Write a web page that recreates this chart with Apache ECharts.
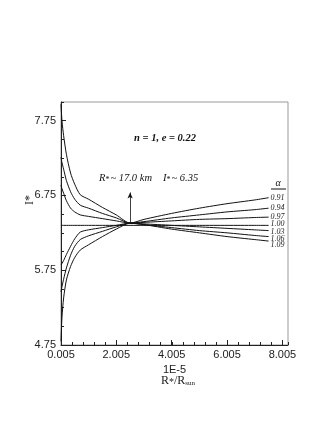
<!DOCTYPE html>
<html>
<head>
  <meta charset="UTF-8">
  <title>I* vs R*/Rsun</title>
  <style>
    html, body { margin: 0; padding: 0; background: #fff; }
    #chart { width: 332px; height: 430px; }
  </style>
  <script type="text/javascript" src="https://cdn.jsdelivr.net/npm/echarts@6/dist/echarts.min.js"></script>
</head>
<body>
  <div id="chart"></div>
  <script>
    // x in units of 1E-5 (R*/Rsun)
    var xs = [0.005, 0.04, 0.1, 0.2, 0.35, 0.5, 0.7, 1.0, 1.5, 2.0, 2.5, 3.0, 4.0, 5.0, 6.0, 7.0, 7.5];
    var alphas = ['0.91', '0.94', '0.97', '1.00', '1.03', '1.06', '1.09'];
    var a091 = [7.97, 7.75, 7.55, 7.30, 7.05, 6.90, 6.76, 6.70, 6.59, 6.49, 6.38, 6.43, 6.51, 6.58, 6.64, 6.69, 6.72];
    var a094 = [7.26, 7.19, 7.10, 6.95, 6.80, 6.70, 6.62, 6.58, 6.51, 6.45, 6.38, 6.40, 6.45, 6.49, 6.53, 6.56, 6.58];
    var a097 = [6.89, 6.84, 6.78, 6.68, 6.58, 6.53, 6.49, 6.47, 6.44, 6.41, 6.38, 6.39, 6.41, 6.43, 6.44, 6.455, 6.46];
    var a100 = [6.35, 6.35, 6.35, 6.35, 6.35, 6.35, 6.35, 6.35, 6.35, 6.35, 6.35, 6.35, 6.35, 6.35, 6.35, 6.35, 6.35];
    var a103 = [5.82, 5.84, 5.88, 5.96, 6.07, 6.17, 6.26, 6.29, 6.32, 6.35, 6.38, 6.37, 6.35, 6.33, 6.31, 6.29, 6.28];
    var a106 = [5.46, 5.53, 5.63, 5.78, 5.95, 6.07, 6.16, 6.21, 6.27, 6.33, 6.38, 6.36, 6.32, 6.28, 6.25, 6.215, 6.20];
    var a109 = [4.80, 5.12, 5.38, 5.62, 5.80, 5.92, 6.02, 6.09, 6.20, 6.30, 6.38, 6.36, 6.30, 6.25, 6.20, 6.16, 6.14];
    var curves = [a091, a094, a097, a100, a103, a106, a109];
    var xTickLabels = ['0.005', '2.005', '4.005', '6.005', '8.005'];
    // crossing point and arrow tip
    var arrowX = 2.5, arrowFrom = 6.38, arrowTo = 6.79;

    var serif = 'Liberation Serif';
    var sans = 'Liberation Sans';

    var myChart = echarts.init(document.getElementById('chart'));

    var labelShift = [0, 0, 0, -1, 1, 2, 4];
    var series = curves.map(function (vals, k) {
      var s = {
        name: alphas[k],
        type: 'line',
        data: xs.map(function (x, i) { return [x, vals[i]]; }),
        showSymbol: false,
        smooth: 0.25,
        lineStyle: { color: '#111', width: 1 },
        endLabel: {
          show: true,
          formatter: alphas[k],
          fontFamily: serif,
          fontStyle: 'italic',
          fontSize: 8,
          color: '#222',
          distance: 2,
          offset: [0, labelShift[k]]
        }
      };
      if (k === 3) {
        s.markLine = {
          silent: true,
          symbol: ['none', 'arrow'],
          symbolSize: [4, 6],
          label: { show: false },
          lineStyle: { color: '#111', width: 0.8, type: 'solid' },
          data: [[{ coord: [arrowX, arrowFrom] }, { coord: [arrowX, arrowTo] }]]
        };
      }
      return s;
    });

    // small inward ticks drawn by a second, bare axis on each side
    var minorX = {
      type: 'value', position: 'bottom', offset: 0,
      min: 0.005, max: 8.2, interval: 0.4,
      axisLine: { show: false },
      axisTick: { inside: true, length: 3, lineStyle: { color: '#222' } },
      axisLabel: { show: false },
      splitLine: { show: false }
    };
    var minorY = {
      type: 'value', position: 'left', offset: 0,
      min: 4.75, max: 8.0, interval: 0.25,
      axisLine: { show: false },
      axisTick: { show: true, inside: true, length: 3, lineStyle: { color: '#222' } },
      axisLabel: { show: false },
      splitLine: { show: false }
    };

    var option = {
      backgroundColor: '#fff',
      animation: false,
      grid: {
        left: 61, top: 102, right: 44, bottom: 85,
        show: true, borderColor: '#999', borderWidth: 1
      },
      xAxis: [{
        type: 'value', position: 'bottom',
        min: 0.005, max: 8.2, interval: 2,
        name: '1E-5',
        nameLocation: 'middle',
        nameGap: 16,
        nameTextStyle: { fontFamily: sans, fontSize: 11, color: '#222' },
        axisLine: { lineStyle: { color: '#222', width: 1 } },
        axisTick: { inside: true, length: 5, lineStyle: { color: '#222' } },
        splitLine: { show: false },
        axisLabel: {
          showMaxLabel: false,
          fontFamily: sans, fontSize: 11, color: '#222', margin: 4,
          formatter: function (v) { return xTickLabels[Math.round(v / 2)]; }
        }
      }, minorX],
      yAxis: [{
        type: 'value', position: 'left',
        min: 4.75, max: 8.0, interval: 1,
        axisLine: { show: true, lineStyle: { color: '#222', width: 1 } },
        axisTick: { show: true, inside: true, length: 5, lineStyle: { color: '#222' } },
        splitLine: { show: false },
        axisLabel: {
          showMaxLabel: false,
          fontFamily: sans, fontSize: 11, color: '#222', margin: 5,
          formatter: function (v) { return v.toFixed(2); }
        }
      }, minorY],
      graphic: [
        {
          type: 'text', x: 30, y: 200, rotation: Math.PI / 2,
          style: {
            text: 'I*', fontFamily: serif, fontSize: 12, fill: '#222',
            align: 'center', verticalAlign: 'middle'
          }
        },
        {
          type: 'text', x: 178, y: 381,
          style: {
            text: '{m|R}{s|*}{m|/R}{b|sun}',
            align: 'center', verticalAlign: 'middle',
            rich: {
              m: { fontFamily: serif, fontSize: 12, fill: '#222' },
              s: { fontFamily: serif, fontSize: 10, fill: '#222', verticalAlign: 'bottom' },
              b: { fontFamily: serif, fontSize: 7, fill: '#222', padding: [5, 0, 0, 0] }
            }
          }
        },
        {
          type: 'text', x: 165, y: 138,
          style: {
            text: 'n = 1, e = 0.22', fontFamily: serif, fontStyle: 'italic',
            fontWeight: 'bold', fontSize: 10.5, fill: '#111',
            align: 'center', verticalAlign: 'middle'
          }
        },
        {
          type: 'text', x: 99, y: 178,
          style: {
            text: '{t|R}{a|*}{t|~ 17.0 km}', align: 'left', verticalAlign: 'middle',
            rich: {
              t: { fontFamily: serif, fontStyle: 'italic', fontSize: 10.5, fill: '#111' },
              a: { fontFamily: serif, fontSize: 8, fill: '#111', padding: [4, 1, 0, 0] }
            }
          }
        },
        {
          type: 'text', x: 163, y: 178,
          style: {
            text: '{t|I}{a|*}{t|~ 6.35}', align: 'left', verticalAlign: 'middle',
            rich: {
              t: { fontFamily: serif, fontStyle: 'italic', fontSize: 10.5, fill: '#111' },
              a: { fontFamily: serif, fontSize: 8, fill: '#111', padding: [4, 1, 0, 0] }
            }
          }
        },
        {
          type: 'text', x: 278, y: 183,
          style: {
            text: 'α', fontFamily: serif, fontStyle: 'italic',
            fontSize: 10, fill: '#111', align: 'center', verticalAlign: 'middle'
          }
        },
        {
          type: 'line',
          shape: { x1: 271, y1: 189, x2: 286, y2: 189 },
          style: { stroke: '#111', lineWidth: 1 }
        }
      ],
      series: series
    };

    myChart.setOption(option);
  </script>
</body>
</html>
